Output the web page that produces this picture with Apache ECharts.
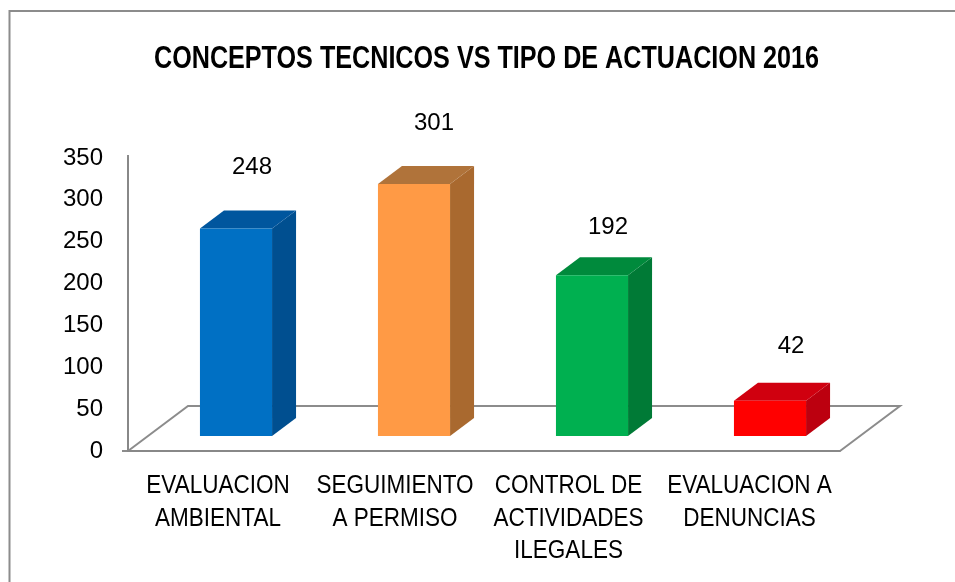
<!DOCTYPE html>
<html>
<head>
<meta charset="utf-8">
<title>Conceptos tecnicos</title>
<script src="https://cdn.jsdelivr.net/npm/echarts@6/dist/echarts.min.js"></script>
<style>
  html, body { margin: 0; padding: 0; background: #fff; }
  #chart { width: 955px; height: 582px; }
</style>
</head>
<body>
<div id="chart"></div>
<script>
  // datos
  const categories = ['EVALUACION\nAMBIENTAL', 'SEGUIMIENTO\nA PERMISO', 'CONTROL DE\nACTIVIDADES\nILEGALES', 'EVALUACION A\nDENUNCIAS'];
  const values = [248, 301, 192, 42];
  const yTicks = [0, 50, 100, 150, 200, 250, 300, 350];

  // colores de cada barra: frente, tapa, costado
  const frontColors = ['#0070c4', '#ff9a45', '#00b050', '#ff0000'];
  const topColors = ['#00569e', '#b0733a', '#008a3c', '#d0000f'];
  const sideColors = ['#004f90', '#a9692f', '#007a36', '#bc000f'];

  // separacion de la etiqueta respecto a la esquina superior de la barra
  const labelLift = [61, 61, 48, 54];
  const labelShift = [16, 20, 16, 21];
  const categoryShift = [1, 0, -4.5, -1.5];

  const font = '"Liberation Sans", Arial, sans-serif';
  const depthX = 24, depthY = 18; // profundidad 3D de la barra
  const barOffsetX = 19, barOffsetY = 15; // la barra se apoya sobre el piso

  function renderBar(params, api) {
    const i = api.value(0);
    const top = api.coord([i, api.value(1)]);
    const base = api.coord([i, 0]);
    const w = api.size([1, 0])[0] * 0.405;
    const x0 = top[0] + barOffsetX - w / 2;
    const x1 = x0 + w;
    const y0 = top[1] - barOffsetY;
    const y1 = base[1] - barOffsetY;
    return {
      type: 'group',
      children: [
        { type: 'polygon', shape: { points: [[x1, y0], [x1 + depthX, y0 - depthY], [x1 + depthX, y1 - depthY], [x1, y1]] },
          style: { fill: sideColors[i] } },
        { type: 'polygon', shape: { points: [[x0, y0], [x0 + depthX, y0 - depthY], [x1 + depthX, y0 - depthY], [x1, y0]] },
          style: { fill: topColors[i] } },
        { type: 'rect', shape: { x: x0, y: y0, width: w, height: y1 - y0 },
          style: { fill: frontColors[i] } },
        { type: 'text', x: x0 + w / 2 + labelShift[i], y: y0 - labelLift[i],
          style: { text: String(api.value(1)), font: '24px ' + font, fill: '#000', align: 'center', verticalAlign: 'middle' } },
        // etiqueta de categoria, angostada porque no hay Arial Narrow
        { type: 'text', x: base[0] + categoryShift[i], y: base[1] + 19, scaleX: 0.9,
          style: { text: categories[i], font: '25px ' + font, lineHeight: 32.5, fill: '#000', align: 'center', verticalAlign: 'top' } }
      ]
    };
  }

  const myChart = echarts.init(document.getElementById('chart'), null, { renderer: 'canvas' });
  myChart.setOption({
    animation: false,
    backgroundColor: '#fff',
    grid: { left: 128, right: 115, top: 158, bottom: 131 },
    xAxis: {
      type: 'category',
      data: categories,
      axisLine: { lineStyle: { color: '#888', width: 2 } },
      axisTick: { show: false },
      axisLabel: { show: false }
    },
    yAxis: {
      type: 'value',
      min: yTicks[0],
      max: yTicks[yTicks.length - 1],
      interval: 50,
      splitLine: { show: false },
      axisLine: { show: true, lineStyle: { color: '#888', width: 2 } },
      axisTick: { show: false },
      axisLabel: { fontFamily: font, fontSize: 24, color: '#000', margin: 25, padding: [2, 0, 0, 0] }
    },
    series: [{
      type: 'custom',
      renderItem: renderBar,
      encode: { x: 0, y: 1 },
      clip: false,
      data: values.map((v, i) => [i, v]),
      z: 5
    }],
    graphic: [
      // titulo
      { type: 'text', z: 6, x: 486.5, y: 60, scaleX: 0.825,
        style: { text: 'CONCEPTOS TECNICOS VS TIPO DE ACTUACION 2016', font: 'bold 30.5px ' + font, fill: '#000', align: 'center', verticalAlign: 'middle' } },
      // marco de la imagen
      { type: 'polyline', z: 0, shape: { points: [[9.5, 582], [9.5, 11], [955, 11]] },
        style: { stroke: '#8c8c8c', lineWidth: 2, fill: null } },
      // piso del grafico
      { type: 'polyline', z: 0, shape: { points: [[128, 451], [188, 406], [900, 406], [840, 451]] },
        style: { stroke: '#8c8c8c', lineWidth: 2, fill: null } },
      { type: 'line', z: 0, shape: { x1: 122, y1: 451, x2: 128, y2: 451 },
        style: { stroke: '#8c8c8c', lineWidth: 2 } },
      { type: 'line', z: 0, shape: { x1: 128, y1: 155, x2: 128, y2: 158 },
        style: { stroke: '#8c8c8c', lineWidth: 2 } }
    ]
  });
</script>
</body>
</html>
